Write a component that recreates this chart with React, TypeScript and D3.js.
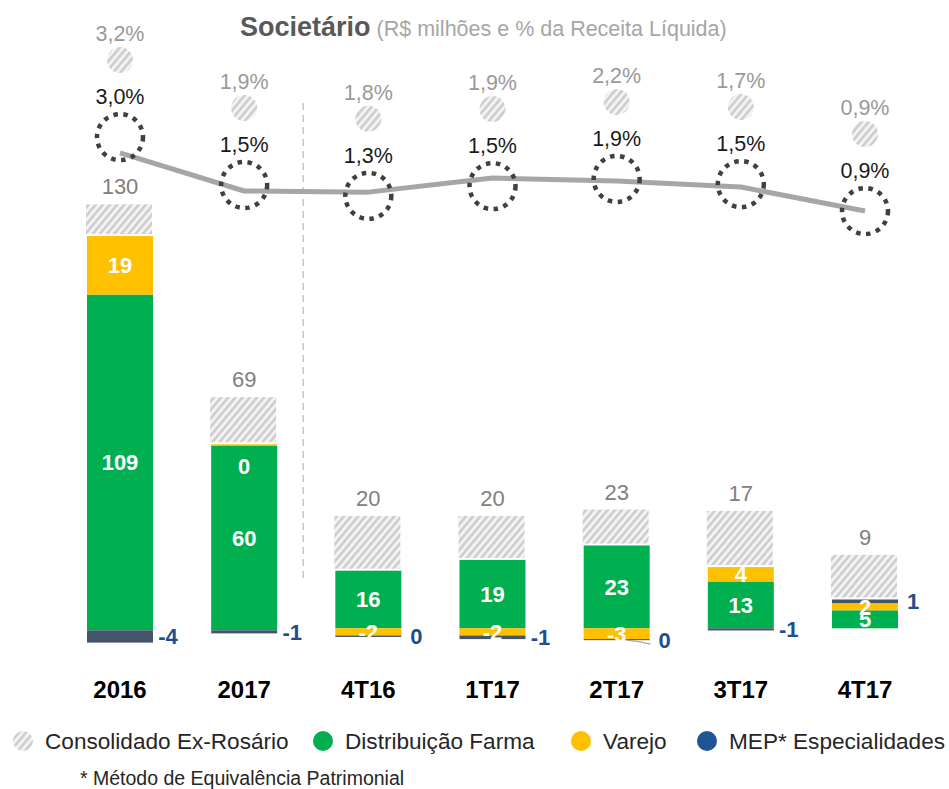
import React from 'react';
import * as d3 from 'd3';

// ---- data ----
const categories = ['2016', '2017', '4T16', '1T17', '2T17', '3T17', '4T17'];
const periodKind = ['ano', 'ano', 'tri', 'tri', 'tri', 'tri', 'tri'];
const distribuicao = [109, 60, 16, 19, 23, 13, 5];
const varejo = [19, 0.4, -2, -2, -3, 4, 2];
const mep = [-4, -1, -0.4, -1, -0.3, -0.6, 1];
const consolidadoTotal = [130, 69, 20, 20, 23, 17, 9];
// top level of the hatched "Consolidado Ex-Rosário" block, as drawn
const exRosarioTop = [138.3, 75.7, 31.2, 31.2, 33, 32.6, 20.4];
const exRosarioPctLabels = ['3,2%', '1,9%', '1,8%', '1,9%', '2,2%', '1,7%', '0,9%'];
const marginPctLabels = ['3,0%', '1,5%', '1,3%', '1,5%', '1,9%', '1,5%', '0,9%'];
// level of the grey margin line, as drawn
const marginLine = [2.9, 1.57, 1.53, 2.02, 1.92, 1.71, 0.87];
// level of the dotted margin markers, as drawn
const marginMarker = [3.45, 1.78, 1.4, 1.74, 1.99, 1.81, 0.87];
const legendItems = ['Consolidado Ex-Rosário', 'Distribuição Farma', 'Varejo', 'MEP* Especialidades'];

const FONT = "'Liberation Sans', Arial, sans-serif";
const GREEN = '#00b050';
const YELLOW = '#ffc000';
const SLATE = '#44546a';
const BLUE = '#1f4e8c';
const LEGEND_BLUE = '#1f5597';

const fmt = (v: number) => `${Math.round(v) || 0}`;

export default function App() {
  const W = 949;
  const H = 789;
  const x = d3.scalePoint<string>().domain(categories).range([120, 865]);
  const barW = 66;
  const yAnnual = d3.scaleLinear().domain([0, 100]).range([630.3, 322.3]);
  const yQuarter = d3.scaleLinear().domain([0, 10]).range([628.3, 592.3]);
  const yPct = d3.scaleLinear().domain([0, 3]).range([236, 150]);

  const series = [
    { key: 'dist', values: distribuicao, color: GREEN },
    { key: 'varejo', values: varejo, color: YELLOW },
    { key: 'mep', values: mep, color: SLATE },
  ];

  const bars = categories.map((c, i) => {
    const y = periodKind[i] === 'ano' ? yAnnual : yQuarter;
    let pos = 0;
    let neg = 0;
    const segs = series.map((s) => {
      const v = s.values[i];
      let lo: number, hi: number;
      if (v >= 0) {
        lo = pos; hi = pos + v; pos = hi;
      } else {
        hi = neg; lo = neg + v; neg = lo;
      }
      return { key: s.key, color: s.color, v, top: y(hi), bot: y(lo) };
    });
    return { c, i, cx: x(c) as number, y, segs, posTop: y(pos), hatchTop: y(exRosarioTop[i]) };
  });

  const line = d3
    .line<number>()
    .x((_, i) => x(categories[i]) as number)
    .y((d) => yPct(d));

  const sepX = ((x(categories[1]) as number) + (x(categories[2]) as number)) / 2 - 3;

  return (
    <svg
      width={W}
      height={H}
      viewBox={`0 0 ${W} ${H}`}
      style={{ position: 'absolute', left: 0, top: 0, background: '#fff' }}
      fontFamily={FONT}
    >
      <defs>
        <pattern id="hatch" patternUnits="userSpaceOnUse" width="5.5" height="5.5" patternTransform="rotate(40)">
          <rect width="5.5" height="5.5" fill="#f3f3f3" />
          <rect width="2.6" height="5.5" fill="#cdcdcd" />
        </pattern>
      </defs>

      {/* title */}
      <text x={240} y={36} fontSize={27} fontWeight="bold" fill="#595959">
        Societário
        <tspan fontSize={21.5} fontWeight="normal" fill="#a6a6a6" dx={6}>
          (R$ milhões e % da Receita Líquida)
        </tspan>
      </text>

      {/* separator */}
      <line x1={sepX} x2={sepX} y1={103} y2={583} stroke="#c8c8c8" strokeWidth={1.5} strokeDasharray="7 5" />

      {/* bars */}
      {bars.map((b) => (
        <g key={b.c}>
          <rect
            x={b.cx - barW / 2 - 1}
            y={b.hatchTop}
            width={barW}
            height={Math.max(0, b.posTop - 2 - b.hatchTop)}
            fill="url(#hatch)"
          />
          {b.segs.map((s) => (
            <rect
              key={s.key}
              x={b.cx - barW / 2}
              y={s.top}
              width={barW}
              height={Math.max(0, s.bot - s.top)}
              fill={s.color}
            />
          ))}
          <text
            x={b.cx}
            y={b.hatchTop - 10}
            textAnchor="middle"
            fontSize={22}
            fill="#808080"
          >
            {consolidadoTotal[b.i]}
          </text>
          {b.segs
            .filter((s) => s.key !== 'mep')
            .map((s) => {
              const small = Math.abs(s.v) < 0.5;
              const cy = small ? s.top + 22 : (s.top + s.bot) / 2;
              return (
                <text
                  key={s.key}
                  x={b.cx}
                  y={cy}
                  dy="0.36em"
                  textAnchor="middle"
                  fontSize={22}
                  fontWeight="bold"
                  fill="#ffffff"
                >
                  {fmt(s.v)}
                </text>
              );
            })}
          {b.segs
            .filter((s) => s.key === 'mep')
            .map((s) => (
              <text
                key={s.key}
                x={b.cx + barW / 2 + 15}
                y={(s.top + s.bot) / 2}
                dy="0.36em"
                textAnchor="middle"
                fontSize={22}
                fontWeight="bold"
                fill={BLUE}
              >
                {fmt(s.v)}
              </text>
            ))}
          <text x={b.cx} y={698} textAnchor="middle" fontSize={24} fontWeight="bold" fill="#000">
            {b.c}
          </text>
        </g>
      ))}

      {/* leader line for the displaced 2T17 MEP label */}
      {bars
        .filter((b) => b.c === '2T17')
        .map((b) => {
          const s = b.segs[2];
          const x0 = b.cx + 10;
          const x1 = b.cx + barW / 2 + 1;
          return (
            <path
              key="leader"
              d={`M${x0},${s.bot}Q${(x0 + x1) / 2},${s.bot + 1} ${x1},${s.bot + 4}`}
              fill="none"
              stroke="#a6a6a6"
              strokeWidth={1.2}
            />
          );
        })}

      {/* margin line */}
      <path d={line(marginLine) || ''} fill="none" stroke="#a6a6a6" strokeWidth={5} strokeLinejoin="round" />

      {/* markers & pct labels */}
      {marginMarker.map((v, i) => {
        const cx = x(categories[i]) as number;
        const cy = yPct(v);
        return (
          <g key={categories[i]}>
            <circle cx={cx} cy={cy} r={23} fill="none" stroke="#404040" strokeWidth={4.5} strokeDasharray="4.5 5.6" />
            <text x={cx} y={cy - 41} dy="0.36em" textAnchor="middle" fontSize={21.5} fill="#1a1a1a">
              {marginPctLabels[i]}
            </text>
            <circle cx={cx} cy={cy - 77} r={13} fill="url(#hatch)" />
            <text x={cx} y={cy - 104} dy="0.36em" textAnchor="middle" fontSize={21.5} fill="#999999">
              {exRosarioPctLabels[i]}
            </text>
          </g>
        );
      })}

      {/* legend */}
      {(() => {
        const cxs = [23, 323, 581, 707];
        const fills = ['url(#hatch)', GREEN, YELLOW, LEGEND_BLUE];
        return legendItems.map((t, i) => (
          <g key={t}>
            <circle cx={cxs[i]} cy={741} r={10} fill={fills[i]} />
            <text x={cxs[i] + 22} y={741} dy="0.36em" fontSize={22.6} fill="#262626">
              {t}
            </text>
          </g>
        ));
      })()}
      <text x={80} y={778} dy="0.36em" fontSize={19.5} fill="#262626">
        * Método de Equivalência Patrimonial
      </text>
    </svg>
  );
}
